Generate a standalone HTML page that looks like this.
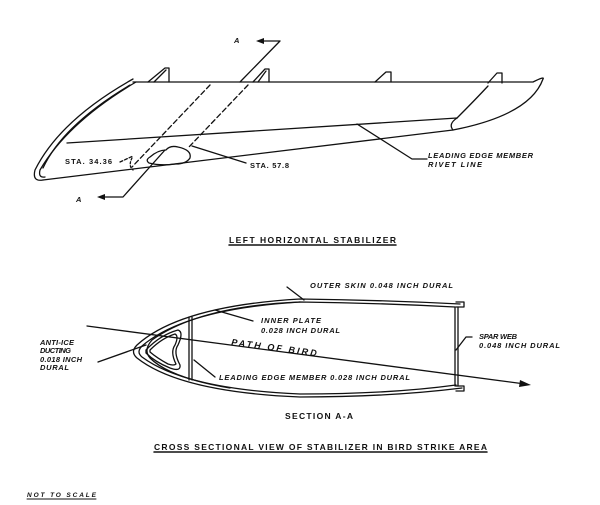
<!DOCTYPE html>
<html><head><meta charset="utf-8"><style>
html,body{margin:0;padding:0;background:#fff}
svg{display:block}
text{font-family:"Liberation Sans",sans-serif;font-weight:bold;font-style:italic;fill:#111}
</style></head><body>
<svg width="600" height="505" viewBox="0 0 600 505" xmlns="http://www.w3.org/2000/svg">
<g fill="none" stroke="#111" stroke-width="1.3" stroke-linecap="round" stroke-linejoin="round">
<path d="M133,82 L533,82 Q545,76 543,79 Q530,115 453,130 L43,180"/>
<path d="M67,143 L457,118"/>
<path d="M457,118 Q448,124 453,130"/>
<path d="M457,118 Q475,100 488,86"/>
<path d="M133,79 Q60,120 35,170 Q32,182 43,180"/>
<path d="M136,82 Q68,122 40,170 Q38,178 45,177"/>
<path d="M130,85 Q63,125 43,168"/>
<path d="M148,82 L165,68 L169,68 L169,82 M154,82 L166,70"/>
<path d="M253,82 L265,69 L269,69 L269,82 M258,82 L266,71"/>
<path d="M375,82 L386,72 L391,72 L391,82"/>
<path d="M488,83 L497,73 L502,73 L502,83"/>
<path d="M210,85 L132,167" stroke-dasharray="5,3"/>
<path d="M248,85 L188,148" stroke-dasharray="5,3"/>
<path d="M120,162 L133,156" stroke-dasharray="3,2"/>
<path d="M132,158 Q128,166 133,170" stroke-dasharray="2,2"/>
<path d="M280,41 L240,82 M280,41 L262,41"/>
<path d="M165,150 L123,197 L104,197"/>
<path d="M150,157 Q158,150 166,150 Q170,145 178,147 Q192,150 190,158 Q186,164 176,164 Q160,166 149,163 Q145,160 150,157Z"/>
<path d="M192,146 L246,163"/>
<path d="M357,124 L412,159 L427,159"/>
<path d="M229,245 L396,245" stroke-width="1.5"/>
<path d="M460,304 Q380,300 300,299 Q180,306 137,345 Q130,352 137,358 Q180,392 300,397 Q390,397 462,388"/>
<path d="M455,307 Q380,303 300,302 Q185,309 142,346 Q136,352 142,357 Q185,389 300,394 Q390,394 456,385"/>
<path d="M300,302 Q200,306 152,340 Q143,350 150,358 Q170,378 230,388"/>
<path d="M456,302 L464,302 L464,307 L456,307 M456,386 L464,386 L464,391 L456,391"/>
<path d="M455,307 L455,386 M458,307 L458,386"/>
<path d="M189,317 L189,380 M192,317 L192,380"/>
<path d="M146,350 Q160,335 178,330 Q184,332 178,345 Q173,352 180,365 Q181,372 170,368 Q155,362 146,353Z"/>
<path d="M150,350 Q162,338 175,334 Q179,336 175,345 Q170,352 176,364 Q174,366 168,364 Q157,358 150,352Z"/>
<path d="M87,326 L525,384"/>
<path d="M287,287 L304,300"/>
<path d="M215,310 L253,321"/>
<path d="M456,350 L466,337 L472,337"/>
<path d="M98,362 L146,345"/>
<path d="M194,360 L215,377"/>
<path d="M154,452 L487,452" stroke-width="1.5"/>
<path d="M27,499 L96,499" stroke-width="1"/>
</g>
<g fill="#111">
<polygon points="256,41 264,38 264,44"/>
<polygon points="97,197 105,194 105,200"/>
<polygon points="531,385 520,380 519,387"/>
</g>
<g font-size="7.5">
<text x="234" y="43">A</text>
<text x="76" y="202">A</text>
<text x="65" y="164" style="font-style:normal" textLength="47" lengthAdjust="spacing">STA. 34.36</text>
<text x="250" y="168" style="font-style:normal" textLength="39" lengthAdjust="spacing">STA. 57.8</text>
<text x="428" y="158" textLength="105" lengthAdjust="spacing">LEADING EDGE MEMBER</text>
<text x="428" y="167" textLength="54" lengthAdjust="spacing">RIVET LINE</text>
<text x="229" y="243" style="font-style:normal;font-size:8.5px" textLength="167" lengthAdjust="spacing">LEFT HORIZONTAL STABILIZER</text>
<text x="310" y="288" textLength="143" lengthAdjust="spacing">OUTER SKIN 0.048 INCH DURAL</text>
<text x="261" y="323" textLength="60" lengthAdjust="spacing">INNER PLATE</text>
<text x="261" y="333" textLength="79" lengthAdjust="spacing">0.028 INCH DURAL</text>
<text x="479" y="339" textLength="38" lengthAdjust="spacing">SPAR WEB</text>
<text x="479" y="348" textLength="81" lengthAdjust="spacing">0.048 INCH DURAL</text>
<text x="40" y="345" textLength="34" lengthAdjust="spacing">ANTI-ICE</text>
<text x="40" y="353" textLength="31" lengthAdjust="spacing">DUCTING</text>
<text x="40" y="362" textLength="42" lengthAdjust="spacing">0.018 INCH</text>
<text x="40" y="370" textLength="29" lengthAdjust="spacing">DURAL</text>
<text x="219" y="380" textLength="191" lengthAdjust="spacing">LEADING EDGE MEMBER 0.028 INCH DURAL</text>
<text x="231" y="345" font-size="9" transform="rotate(7.5 231 345)" textLength="86" lengthAdjust="spacing">PATH OF BIRD</text>
<text x="285" y="419" style="font-style:normal;font-size:8.5px" textLength="68" lengthAdjust="spacing">SECTION A-A</text>
<text x="154" y="450" style="font-style:normal;font-size:8.5px" textLength="333" lengthAdjust="spacing">CROSS SECTIONAL VIEW OF STABILIZER IN BIRD STRIKE AREA</text>
<text x="27" y="497" font-size="6.5" textLength="69" lengthAdjust="spacing">NOT TO SCALE</text>
</g>
</svg>
</body></html>
